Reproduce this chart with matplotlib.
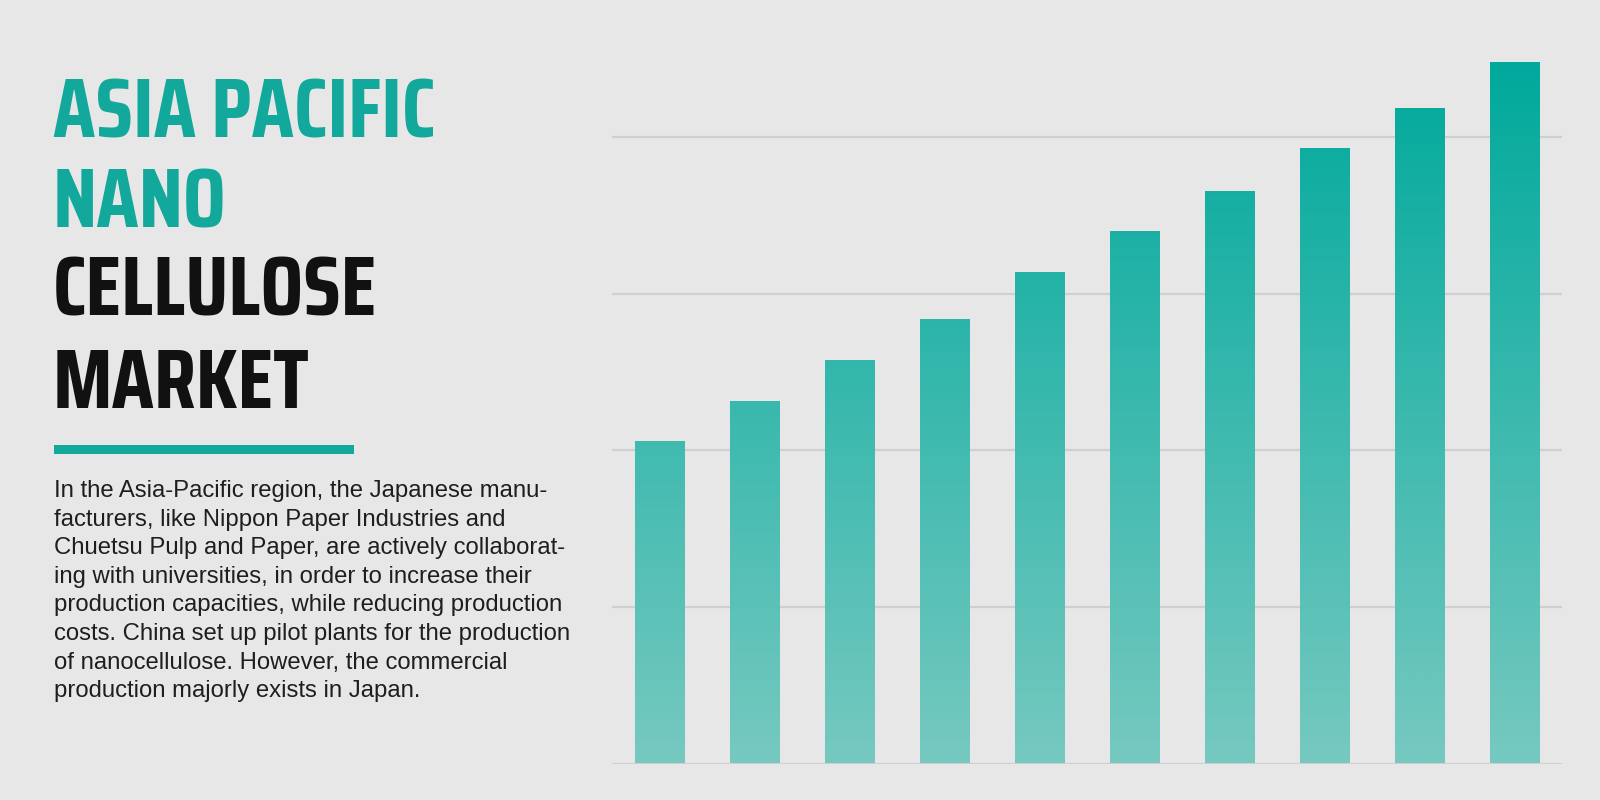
import numpy as np
import matplotlib
matplotlib.use("Agg")
import matplotlib.pyplot as plt
from matplotlib import font_manager
from matplotlib.colors import LinearSegmentedColormap, Normalize
from matplotlib.patches import Rectangle

# Datos del grafico
years = ["2016", "2017", "2018", "2019", "2020", "2021", "2022", "2023", "2024", "2025"]
values = [2.05, 2.31, 2.57, 2.83, 3.13, 3.39, 3.65, 3.92, 4.18, 4.47]

title_teal = ["ASIA PACIFIC", "NANO"]
title_black = ["CELLULOSE", "MARKET"]

body_lines = [
    "In the Asia-Pacific region, the Japanese manu-",
    "facturers, like Nippon Paper Industries and",
    "Chuetsu Pulp and Paper, are actively collaborat-",
    "ing with universities, in order to increase their",
    "production capacities, while reducing production",
    "costs. China set up pilot plants for the production",
    "of nanocellulose. However, the commercial",
    "production majorly exists in Japan.",
]

BG = "#e7e7e7"
TEAL = "#13a89c"
GRID = "#cfcfcf"

installed = {f.name for f in font_manager.fontManager.ttflist}


def pick_font(names):
    for n in names:
        if n in installed:
            return n
    return "DejaVu Sans"


title_font = pick_font(["Saira Condensed", "Khand", "Bebas Neue", "DejaVu Sans"])
body_font = pick_font(["Liberation Sans", "Arimo", "DejaVu Sans"])

fig = plt.figure(figsize=(16, 8), dpi=100, facecolor=BG)
W, H = 1600, 800

# Titulo
baselines = [138, 227, 316, 408]
for i, line in enumerate(title_teal + title_black):
    color = TEAL if i < len(title_teal) else "#111111"
    fig.text(53 / W, 1 - baselines[i] / H, line, color=color,
             fontsize=61, fontweight="bold", family=title_font,
             va="baseline", ha="left")

# Barra decorativa bajo el titulo
fig.add_artist(Rectangle((54 / W, 1 - 454 / H), 300 / W, 9.5 / H,
                         transform=fig.transFigure, color=TEAL, lw=0))

# Parrafo
for i, line in enumerate(body_lines):
    fig.text(54 / W, 1 - (497 + i * 28.6) / H, line, color="#1e1e1e",
             fontsize=17.2, family=body_font, va="baseline", ha="left")

# Grafico de barras con degradado
ax = fig.add_axes([612 / W, 1 - 763.5 / H, 950 / W, 763.5 / H])
ax.set_facecolor(BG)
x = np.arange(len(values))
ymax = 763.5 / 156.65

ax.set_yticks([0, 1, 2, 3, 4])
ax.yaxis.grid(True, color=GRID, lw=1.6, zorder=0)
ax.set_axisbelow(True)
ax.tick_params(left=False, bottom=False, labelleft=False, labelbottom=False)
for s in ax.spines.values():
    s.set_visible(False)

cmap = LinearSegmentedColormap.from_list("teal", ["#76c9c0", "#00a99c"])
norm = Normalize(0, max(values))
bw = 0.52
bars = ax.bar(x, values, width=bw, color="none", zorder=2)
for b, v in zip(bars, values):
    grad = np.linspace(0, v, 256).reshape(-1, 1)
    ax.imshow(grad, cmap=cmap, norm=norm, origin="lower", aspect="auto",
              extent=[b.get_x(), b.get_x() + bw, 0, v], zorder=2,
              interpolation="bicubic")

ax.set_xlim(-0.5, len(values) - 0.5)
ax.set_ylim(0, ymax)

fig.savefig("out.png", dpi=100, facecolor=BG)
